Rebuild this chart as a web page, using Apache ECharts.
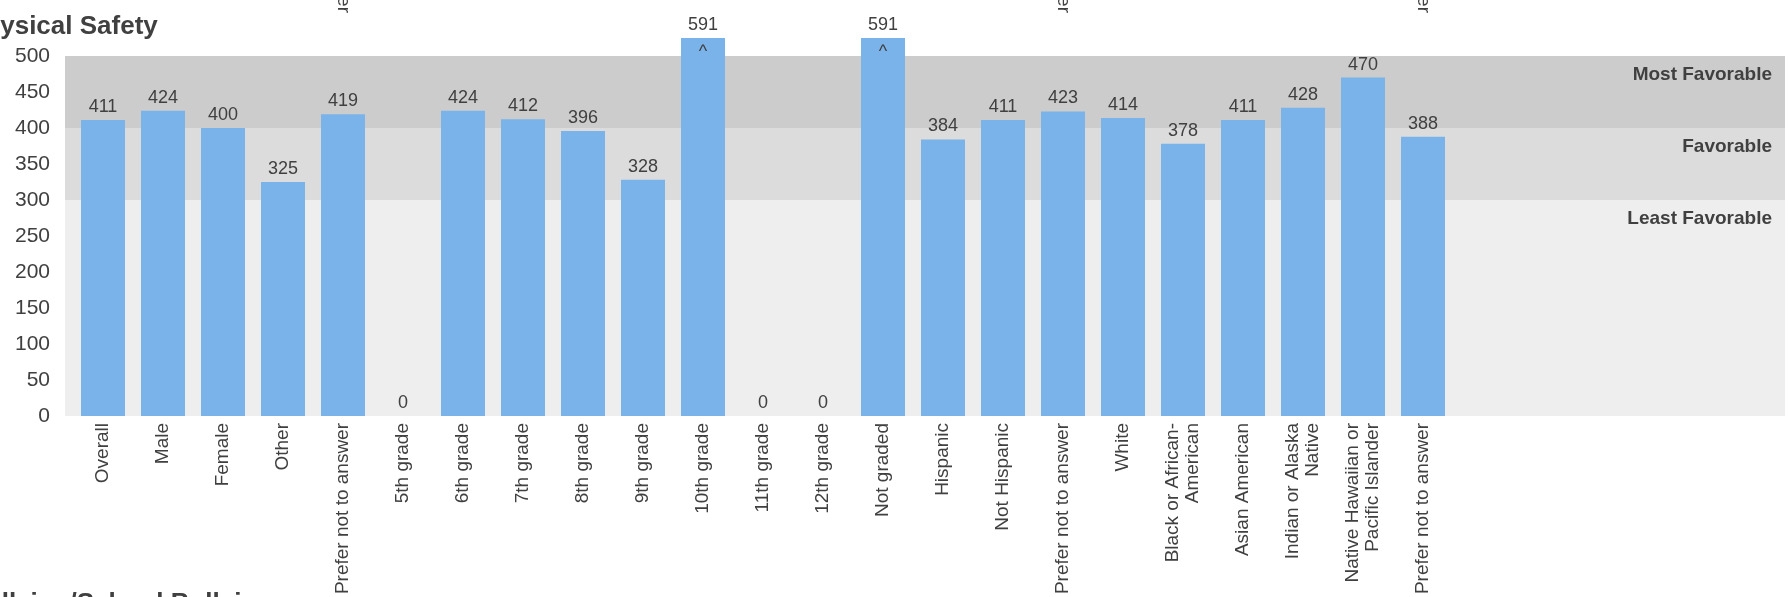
<!DOCTYPE html>
<html>
<head>
<meta charset="utf-8">
<script src="https://cdn.jsdelivr.net/npm/echarts@6/dist/echarts.min.js"></script>
<style>
  html, body { margin: 0; padding: 0; background: #ffffff; }
  #chart { width: 1789px; height: 597px; }
</style>
</head>
<body>
<div id="chart"></div>
<script>
// ---- data ----
const categories = [
  'Overall', 'Male', 'Female', 'Other', 'Prefer not to answer',
  '5th grade', '6th grade', '7th grade', '8th grade', '9th grade', '10th grade',
  '11th grade', '12th grade', 'Not graded',
  'Hispanic', 'Not Hispanic', 'Prefer not to answer',
  'White', 'Black or African-\nAmerican', 'Asian American',
  'Indian or Alaska\nNative', 'Native Hawaiian or\nPacific Islander', 'Prefer not to answer'
];
const values = [411, 424, 400, 325, 419, 0, 424, 412, 396, 328, 591, 0, 0, 591,
                384, 411, 423, 414, 378, 411, 428, 470, 388];
const yTickLabels = [0, 50, 100, 150, 200, 250, 300, 350, 400, 450, 500];
const bandNames = ['Most Favorable', 'Favorable', 'Least Favorable'];
const bandLower = [400, 300, 0];
const bandUpper = [500, 400, 300];
const chartTitle = 'Physical Safety';
const nextChartTitle = 'Bullying/School Bullying';
const prevChartLabel = 'Prefer not to answer';
const Y_CAP = 525;   // axis top: bars above it are drawn capped with a "^"

// ---- chart ----
const FONT = '"Liberation Sans", Arial, sans-serif';
const TXT = '#404040';
const bandColors = ['#cccccc', '#dcdcdc', '#eeeeee'];

const barData = values.map(v => {
  const item = { value: Math.min(v, Y_CAP), raw: v };
  if (v > Y_CAP) {
    item.label = { offset: [0, 35] };
  }
  return item;
});

const topLabels = categories.map(c => (c === prevChartLabel ? c : ''));

const chart = echarts.init(document.getElementById('chart'), null, { renderer: 'canvas' });
chart.setOption({
  animation: false,
  backgroundColor: '#ffffff',
  textStyle: { fontFamily: FONT },
  grid: [
    { left: 73, top: 38, width: 1380, bottom: 181, containLabel: false, outerBoundsMode: 'none' },
    { left: 65, top: 38, right: 4, bottom: 181, containLabel: false, outerBoundsMode: 'none' }
  ],
  xAxis: [
    {
      gridIndex: 0, type: 'category', position: 'bottom', data: categories,
      axisLine: { show: false }, axisTick: { show: false },
      axisLabel: { interval: 0, rotate: 90, margin: 7, fontSize: 19, lineHeight: 20,
                   color: TXT, fontFamily: FONT }
    },
    {
      gridIndex: 0, type: 'category', position: 'top', data: topLabels,
      axisLine: { show: false }, axisTick: { show: false },
      axisLabel: { interval: 0, rotate: 90, margin: 25, fontSize: 19,
                   color: TXT, fontFamily: FONT }
    },
    { gridIndex: 1, type: 'value', min: 0, max: 1, show: false }
  ],
  yAxis: [
    { gridIndex: 0, type: 'value', min: 0, max: Y_CAP, show: false },
    {
      gridIndex: 1, type: 'value', min: 0, max: Y_CAP, interval: 50,
      axisLine: { show: false }, axisTick: { show: false }, splitLine: { show: false },
      axisLabel: {
        margin: 15, fontSize: 21, color: TXT, fontFamily: FONT, showMaxLabel: false,
        formatter: v => (yTickLabels.indexOf(v) >= 0 ? String(v) : '')
      }
    }
  ],
  series: [
    {
      type: 'line', xAxisIndex: 2, yAxisIndex: 1, data: [], silent: true, z: 0,
      markArea: {
        silent: true,
        data: bandNames.map((n, i) => [
          {
            name: n, yAxis: bandLower[i],
            itemStyle: { color: bandColors[i] },
            label: {
              show: true, position: 'insideTopRight', distance: 0, offset: [-13, 9],
              fontSize: 19, fontWeight: 'bold', color: TXT, fontFamily: FONT
            }
          },
          { yAxis: bandUpper[i] }
        ])
      }
    },
    {
      type: 'bar', xAxisIndex: 0, yAxisIndex: 0, z: 2,
      data: barData, barWidth: 44,
      itemStyle: { color: '#7ab3ea' },
      label: {
        show: true, position: 'top', distance: 4, fontSize: 18, color: TXT, fontFamily: FONT,
        formatter: p => (p.data.raw > Y_CAP ? '{v|' + p.data.raw + '}\n{c|^}' : String(p.data.raw)),
        rich: {
          v: { fontSize: 18, lineHeight: 21, color: TXT, fontFamily: FONT },
          c: { fontSize: 18, lineHeight: 33, color: TXT, fontFamily: FONT }
        }
      }
    }
  ],
  graphic: [
    {
      type: 'text', x: -33, y: 26.5, z: 10,
      style: { text: chartTitle, font: 'bold 26px ' + FONT, fill: TXT,
               textVerticalAlign: 'middle', verticalAlign: 'middle' }
    },
    {
      type: 'text', x: -33, y: 604, z: 10,
      style: { text: nextChartTitle, font: 'bold 26px ' + FONT, fill: TXT,
               textVerticalAlign: 'middle', verticalAlign: 'middle' }
    }
  ]
});
</script>
</body>
</html>
